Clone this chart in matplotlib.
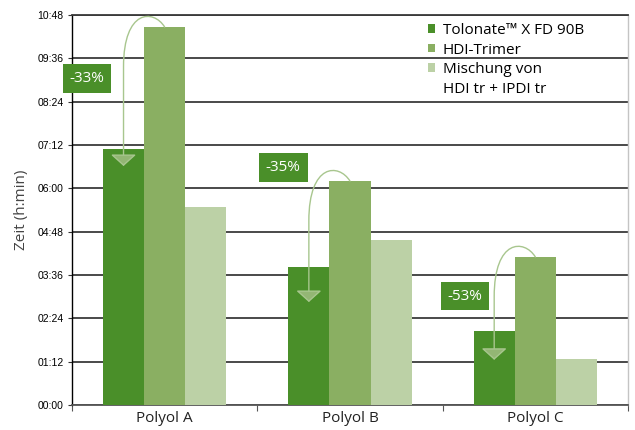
import matplotlib
matplotlib.use("Agg")
import matplotlib.pyplot as plt
from matplotlib.patches import FancyArrowPatch, Rectangle
from matplotlib.path import Path
from matplotlib.ticker import FixedLocator, FuncFormatter
import numpy as np

# ---------------- data ----------------
categories = ["Polyol A", "Polyol B", "Polyol C"]
series_names = ["Tolonate™ X FD 90B", "HDI-Trimer", "Mischung von", "HDI tr + IPDI tr"]
tolonate = ["7:05", "3:50", "2:03"]
hdi_trimer = ["10:28", "6:12", "4:06"]
mischung = ["5:29", "4:34", "1:16"]
reductions = ["-33%", "-35%", "-53%"]
ytick_labels = ["00:00", "01:12", "02:24", "03:36", "04:48", "06:00",
                "07:12", "08:24", "09:36", "10:48"]

# annotation layout (box centres and arrow tips, minutes / category offsets)
box_dx = [-0.42, -0.36, -0.38]
box_y = ["9:03", "6:34", "3:01"]
arrow_tip = ["6:37", "2:51", "1:15"]


def to_min(s):
    h, m = s.split(":")
    return int(h) * 60 + int(m)


tol_v = np.array([to_min(s) for s in tolonate])
hdi_v = np.array([to_min(s) for s in hdi_trimer])
mix_v = np.array([to_min(s) for s in mischung])
yticks = [to_min(s) for s in ytick_labels]

c_tol = "#4a8f29"
c_hdi = "#8aaf62"
c_mix = "#bcd1a6"
c_arrow = "#a8c68e"
c_head = "#93b674"

TXT = "Open Sans"

fig = plt.figure(figsize=(6.35, 4.3), dpi=100)
ax = fig.add_axes([72 / 635, 25 / 430, 556 / 635, 390 / 430])

x = np.arange(len(categories))
w = 0.222
ax.bar(x - w, tol_v, w, color=c_tol, zorder=3, label=series_names[0])
ax.bar(x, hdi_v, w, color=c_hdi, zorder=3, label=series_names[1])
ax.bar(x + w, mix_v, w, color=c_mix, zorder=3, label=series_names[2])

ax.set_xlim(-0.5, len(categories) - 0.5)
ax.set_ylim(0, yticks[-1])

# grid
ax.yaxis.set_major_locator(FixedLocator(yticks))
ax.yaxis.set_major_formatter(FuncFormatter(
    lambda v, p: ytick_labels[yticks.index(int(round(v)))] if int(round(v)) in yticks else ""))
ax.grid(axis="y", color="#3a3a3a", lw=1.3, zorder=1)
ax.set_axisbelow(True)

for lab in ax.get_yticklabels():
    lab.set_fontfamily("Liberation Sans")
ax.tick_params(axis="y", labelsize=7.5, length=3, width=0.8, color="#333333", pad=3)

ax.set_xticks(x)
ax.set_xticklabels(categories, fontfamily=TXT, fontsize=11, color="#222222")
ax.tick_params(axis="x", length=0, pad=4)
ax.set_xticks(np.arange(len(categories) + 1) - 0.5, minor=True)
ax.tick_params(axis="x", which="minor", length=4, width=0.8, color="#555555", direction="out")

ax.spines["left"].set_color("black")
ax.spines["left"].set_linewidth(1.0)
ax.spines["bottom"].set_color("#555555")
ax.spines["bottom"].set_linewidth(1.3)
ax.spines["right"].set_color("#c4c4c4")
ax.spines["right"].set_linewidth(1.0)
ax.spines["top"].set_color("#3a3a3a")
ax.spines["top"].set_linewidth(1.3)

ax.set_ylabel("Zeit (h:min)", fontfamily=TXT, fontsize=11, color="#444444", labelpad=6)

# curved arrows and reduction labels
for i in range(len(categories)):
    hx, ht = x[i], hdi_v[i]
    tx = x[i] - w
    tip = to_min(arrow_tip[i])
    verts = [(hx, ht), (hx - 0.06, ht + 30), (tx, ht + 30), (tx, ht - 66), (tx, tip)]
    codes = [Path.MOVETO, Path.CURVE4, Path.CURVE4, Path.CURVE4, Path.LINETO]
    arr = FancyArrowPatch(path=Path(verts, codes),
                          arrowstyle="-|>,head_length=0.72,head_width=0.8",
                          mutation_scale=10, color=c_arrow, lw=1.0, zorder=5)
    arr.set_facecolor(c_head)
    arr.set_edgecolor(c_arrow)
    ax.add_patch(arr)

    ax.text(x[i] + box_dx[i], to_min(box_y[i]), reductions[i], fontfamily=TXT,
            fontsize=11, color="white", ha="center", va="center", zorder=6,
            bbox=dict(boxstyle="square,pad=0.45", fc=c_tol, ec="none"))

# legend
handles, labels = ax.get_legend_handles_labels()
handles.append(Rectangle((0, 0), 1, 1, fc="none", ec="none"))
labels.append(series_names[3])
ax.legend(handles, labels, loc="upper left", bbox_to_anchor=(428 / 635, 407 / 430),
          bbox_transform=fig.transFigure, frameon=False, borderpad=0, borderaxespad=0,
          handlelength=0.48, handleheight=0.48, handletextpad=0.5, labelspacing=0.3,
          prop={"family": TXT, "size": 11})

fig.savefig("out.png", dpi=100)
